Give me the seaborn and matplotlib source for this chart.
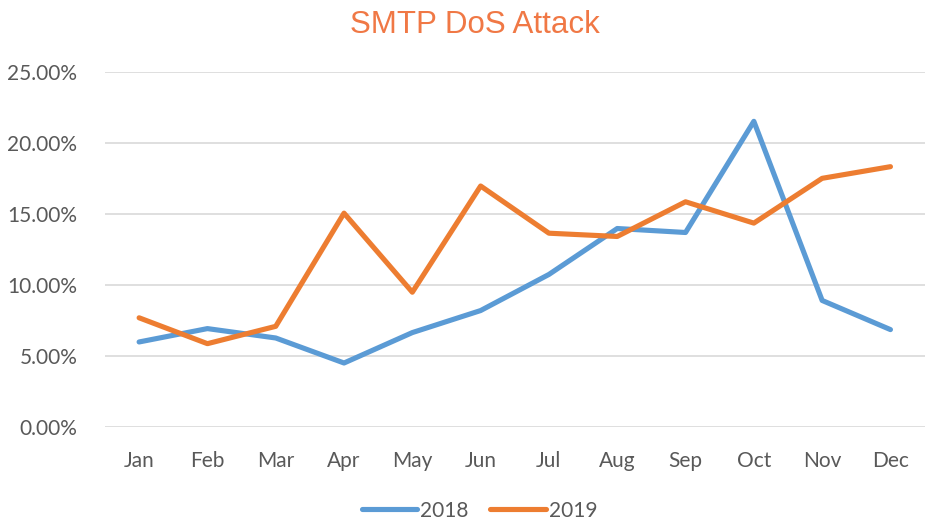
import pandas as pd
import matplotlib
matplotlib.use("Agg")
import matplotlib.pyplot as plt
from matplotlib.ticker import FuncFormatter
import seaborn as sns

# Monthly share of SMTP DoS attacks (percent)
months = ["Jan", "Feb", "Mar", "Apr", "May", "Jun",
          "Jul", "Aug", "Sep", "Oct", "Nov", "Dec"]
vals_2018 = [5.98, 6.92, 6.26, 4.50, 6.64, 8.19, 10.73, 13.96, 13.68, 21.5, 8.90, 6.85]
vals_2019 = [7.68, 5.86, 7.08, 15.04, 9.48, 16.95, 13.63, 13.40, 15.84, 14.34, 17.49, 18.31]
years = ["2018", "2019"]
colors = ["#5B9BD5", "#ED7D31"]

df = pd.DataFrame({
    "month": months * 2,
    "value": vals_2018 + vals_2019,
    "year": [years[0]] * 12 + [years[1]] * 12,
})

sns.set_style("white")
plt.rcParams["font.family"] = ["Lato", "DejaVu Sans"]

fig = plt.figure(figsize=(9.33, 5.25), dpi=100)
ax = fig.add_axes([0.1125, 0.1867, 0.8785, 0.677])

sns.lineplot(data=df, x="month", y="value", hue="year", palette=colors,
             sort=False, linewidth=3.7, ax=ax, legend=True)

ax.set_xlim(-0.5, 11.5)
ax.set_ylim(0, 25)
ax.set_yticks([0, 5, 10, 15, 20, 25])
ax.yaxis.set_major_formatter(FuncFormatter(lambda v, p: f"{v:.2f}%"))
ax.grid(axis="y", color="#D9D9D9", linewidth=1.2)
ax.set_axisbelow(True)
for s in ax.spines.values():
    s.set_visible(False)
ax.tick_params(axis="both", length=0, labelsize=15, colors="#595959")
ax.tick_params(axis="x", pad=17)
ax.tick_params(axis="y", pad=20)
ax.set_xlabel("")
ax.set_ylabel("")

fig.text(0.509, 0.953, "SMTP DoS Attack", color="#F07845", fontsize=22.5,
         ha="center", va="center", family=["Liberation Sans", "DejaVu Sans"])

ax.legend(loc="center", bbox_to_anchor=(0.457, -0.235), ncol=2, frameon=False,
          fontsize=15, handlelength=2.65, handletextpad=0.15, columnspacing=1.05,
          labelcolor="#595959")

fig.savefig("out.png", dpi=100)
